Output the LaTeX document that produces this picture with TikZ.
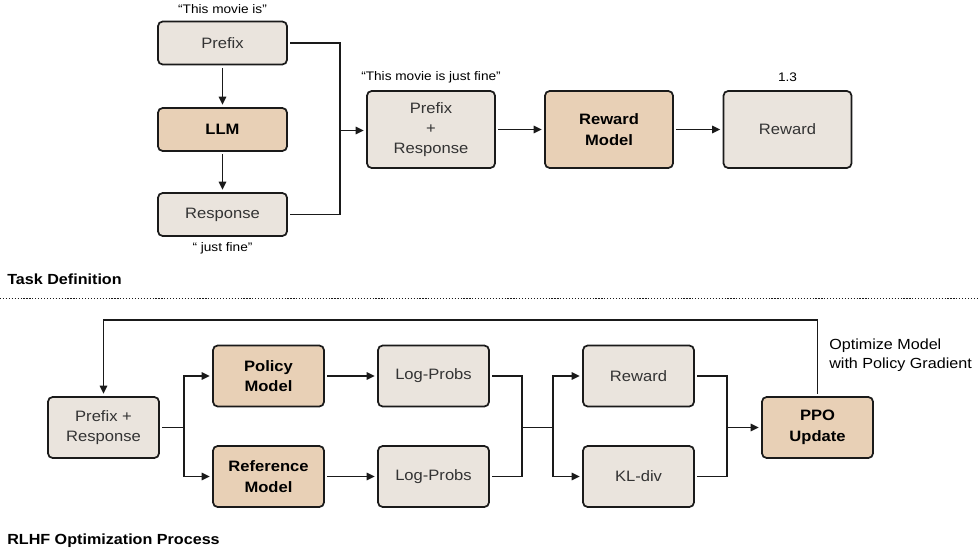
\documentclass[tikz,border=0pt]{standalone}
\usepackage{fontspec}
\setmainfont{Liberation Sans}[FakeStretch=1.1]
\usetikzlibrary{arrows.meta}
\definecolor{boxgray}{HTML}{EAE4DD}
\definecolor{boxtan}{HTML}{E8D0B6}
\definecolor{edgecol}{HTML}{1A1A1A}
\definecolor{txtgray}{HTML}{333333}
\begin{document}
\begin{tikzpicture}[x=0.75pt,y=-0.75pt,
  base/.style={draw=edgecol, line width=1.3pt, rounded corners=3.5pt, align=center,
    inner sep=0pt, outer sep=2.5pt, font=\fontsize{11.3}{15}\selectfont},
  plainbox/.style={base, fill=boxgray, text=txtgray},
  modelbox/.style={base, fill=boxtan, text=black, font=\fontsize{11.3}{15.5}\selectfont\bfseries},
  small/.style={minimum width=96.75pt, minimum height=32.25pt},
  big/.style={minimum width=96pt, minimum height=57.75pt},
  mid/.style={minimum width=83.25pt, minimum height=45.75pt},
  wire/.style={draw=edgecol, line width=1.35pt},
  arr/.style={wire, -{Triangle[length=6pt,width=5.5pt]}},
  caption/.style={font=\fontsize{9.3}{11}\selectfont, text=black},
  heading/.style={font=\fontsize{11}{13}\selectfont\bfseries, anchor=west, inner sep=0pt}
]
\useasboundingbox (0,0) rectangle (978,556);

% ---------- task definition ----------
\node[plainbox, small] (prefix) at (222.5,43) {Prefix};
\node[modelbox, small] (llm) at (222.5,129.5) {LLM};
\node[plainbox, small] (resp) at (222.5,214.5) {Response};
\node[plainbox, big] (pr) at (431,129.5) {Prefix\\+\\Response};
\node[modelbox, big] (rm) at (609,129.5) {Reward\\Model};
\node[plainbox, big] (rw) at (787.5,129.5) {Reward};

\node[caption] (capA) at (222.5,9) {“This movie is”};
\node[caption] (capB) at (222.5,248) {“ just fine”};
\node[caption] (capC) at (431,77) {“This movie is just fine”};
\node[caption] (capD) at (787.5,77) {1.3};

\coordinate (j1) at (340,130.5);
\draw[arr] (prefix) -- (llm);
\draw[arr] (llm) -- (resp);
\draw[wire] (prefix.east) -- (prefix.east -| j1) -- (resp.east -| j1) -- (resp.east);
\draw[arr] (j1) -- (pr.west |- j1);
\draw[arr] (pr) -- (rm);
\draw[arr] (rm) -- (rw);

\node[heading] (taskhead) at (7,279) {Task Definition};
\coordinate (sepL) at (0,298);
\coordinate (sepR) at (978,298);
\draw[edgecol, line width=0.6pt, dash pattern=on 0.9pt off 1.3pt] (sepL) -- (sepR);

% ---------- RLHF optimisation ----------
\node[plainbox, mid] (pr2) at (103.5,427.5) {Prefix +\\Response};
\node[modelbox, mid] (pol) at (268.5,376) {Policy\\Model};
\node[modelbox, mid] (ref) at (268.5,476.5) {Reference\\Model};
\node[plainbox, mid] (lp1) at (433.5,376) {Log-Probs};
\node[plainbox, mid] (lp2) at (433.5,476.5) {Log-Probs};
\node[plainbox, mid] (rwd) at (638.5,376) {Reward};
\node[plainbox, mid] (kl) at (638.5,476.5) {KL-div};
\node[modelbox, mid] (ppo) at (817.5,427.5) {PPO\\Update};

\coordinate (j2) at (184,427.5);
\coordinate (j3) at (522,427.5);
\coordinate (j4) at (553,427.5);
\coordinate (j5) at (727,427.5);
\coordinate (fbR) at (817.5,320);
\coordinate (fbL) at (103.5,320);

\draw[wire] (pr2.east) -- (j2);
\draw[arr] (j2) |- (pol.west);
\draw[arr] (j2) |- (ref.west);
\draw[arr] (pol) -- (lp1);
\draw[arr] (ref) -- (lp2);
\draw[wire] (lp1.east) -| (j3);
\draw[wire] (lp2.east) -| (j3);
\draw[wire] (j3) -- (j4);
\draw[arr] (j4) |- (rwd.west);
\draw[arr] (j4) |- (kl.west);
\draw[wire] (rwd.east) -| (j5);
\draw[wire] (kl.east) -| (j5);
\draw[arr] (j5) -- (ppo.west);
\draw[arr] (ppo.north) -- (fbR) -- (fbL) -- (pr2.north);

\node[anchor=north west, align=left, inner sep=0pt, font=\fontsize{11}{14.3}\selectfont] (optnote) at (829,339) {Optimize Model\\with Policy Gradient};

\node[heading] (rlhfhead) at (7,541) {RLHF Optimization Process};
\end{tikzpicture}
\end{document}
